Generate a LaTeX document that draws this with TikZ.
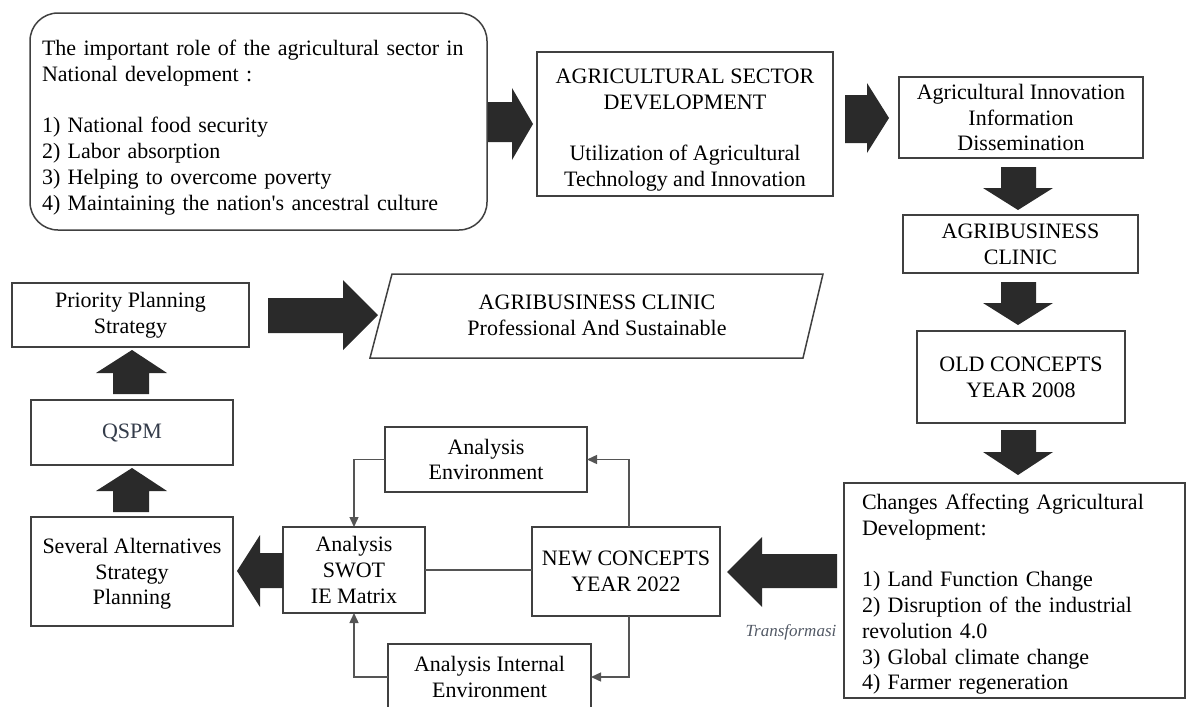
\documentclass[tikz,border=0pt]{standalone}
\usepackage{fontspec}
\setmainfont{Liberation Serif}[Ligatures=TeXOff]
\usetikzlibrary{arrows.meta}
\definecolor{boxline}{HTML}{404040}
\definecolor{arrowfill}{HTML}{2A2A2A}
\definecolor{conncol}{HTML}{555555}
\definecolor{slate}{HTML}{343C4A}
\begin{document}
\begin{tikzpicture}[x=1pt,y=-1pt,
  every node/.style={font=\fontsize{22}{25.8}\selectfont, inner sep=0pt, outer sep=0pt},
  box/.style={draw=boxline, line width=1.5pt, align=center},
  lbox/.style={draw=boxline, line width=1.5pt, align=left},
  barrow/.style={fill=arrowfill},
  conn/.style={draw=conncol, line width=1.4pt},
  tip/.style={-{Triangle[length=10pt,width=9pt]}}
]
\useasboundingbox (0,0) rectangle (1187,707);
\clip (0,0) rectangle (1187,707);

% boxes
\node[lbox, rounded corners=28pt, minimum width=457, minimum height=217, text width=433, inner xsep=12pt] (role) at (258.5,121.5)
 {\rule{0pt}{27pt}The important role of the agricultural sector in\\ National development :\\[25.8pt]
  1) National food security\\ 2) Labor absorption\\ 3) Helping to overcome poverty\\ 4) Maintaining the nation's ancestral culture};
\node[box, minimum width=296, minimum height=144] (asd) at (685,124)
 {\rule{0pt}{27pt}AGRICULTURAL SECTOR\\ DEVELOPMENT\\[25.8pt] Utilization of Agricultural\\ Technology and Innovation};
\node[box, minimum width=244, minimum height=81] (aiid) at (1021,117.5)
 {Agricultural Innovation\\ Information\\ Dissemination};
\node[box, minimum width=235, minimum height=58] (abc) at (1020.5,244)
 {AGRIBUSINESS\\ CLINIC};
\node[box, minimum width=208, minimum height=92] (old) at (1021,377)
 {OLD CONCEPTS\\ YEAR 2008};
\node[lbox, minimum width=341, minimum height=215, text width=305, inner xsep=18pt] (chg) at (1014.5,590.5)
 {\rule{0pt}{23pt}Changes Affecting Agricultural\\ Development:\\[25.8pt]
  1) Land Function Change\\ 2) Disruption of the industrial\\ revolution 4.0\\ 3) Global climate change\\ 4) Farmer regeneration};
\node[box, minimum width=188, minimum height=89] (newc) at (626,571.5)
 {NEW CONCEPTS\\ YEAR 2022};
\node[box, minimum width=202, minimum height=65] (env) at (486,459.5)
 {Analysis\\ Environment};
\node[box, minimum width=142, minimum height=86] (swot) at (354,570)
 {Analysis\\ SWOT\\ IE Matrix};
\node[box, minimum width=203, minimum height=66] (intl) at (489.5,677)
 {Analysis Internal\\ Environment};
\node[box, minimum width=202, minimum height=109] (sev) at (132,571.5)
 {\rule{0pt}{20pt}Several Alternatives\\ Strategy\\ Planning};
\node[box, minimum width=202, minimum height=65, text=slate] (qspm) at (132,432.5)
 {QSPM};
\node[box, minimum width=237, minimum height=64] (prio) at (130.5,315)
 {Priority Planning\\ Strategy};
\node[align=center] (goal) at (597,315)
 {AGRIBUSINESS CLINIC\\ Professional And Sustainable};
\draw[boxline, line width=1.5pt] (392,274) -- (823,274) -- (803,358) -- (370,358) -- cycle;

\node[font=\fontsize{17}{20}\itshape, text=slate!85] (trans) at (791,632) {Transformasi};

% block arrows
\fill[barrow] (488,102) -- (512,102) -- (512,88) -- (533,124) -- (512,160) -- (512,142) -- (488,142) -- cycle;
\fill[barrow] (845,95) -- (867,95) -- (867,83) -- (889,118) -- (867,153) -- (867,143) -- (845,143) -- cycle;
\fill[barrow] (1001,167) -- (1036,167) -- (1036,188) -- (1053,188) -- (1018,210) -- (983,188) -- (1001,188) -- cycle;
\fill[barrow] (1001,282) -- (1036,282) -- (1036,303) -- (1053,303) -- (1018,325) -- (983,303) -- (1001,303) -- cycle;
\fill[barrow] (1001,430) -- (1036,430) -- (1036,452) -- (1053,452) -- (1018,475) -- (983,452) -- (1001,452) -- cycle;
\fill[barrow] (837,554) -- (762,554) -- (762,537) -- (727,572) -- (762,607) -- (762,588) -- (837,588) -- cycle;
\fill[barrow] (283,553) -- (260,553) -- (260,535) -- (237,571) -- (260,607) -- (260,588) -- (283,588) -- cycle;
\fill[barrow] (113,512) -- (113,491) -- (96,491) -- (132,468) -- (167,491) -- (149,491) -- (149,512) -- cycle;
\fill[barrow] (113,394) -- (113,373) -- (96,373) -- (132,350) -- (167,373) -- (149,373) -- (149,394) -- cycle;
\fill[barrow] (268,298) -- (343,298) -- (343,280) -- (378,315) -- (343,350) -- (343,333) -- (268,333) -- cycle;

% thin connectors
\draw[conn, tip] ([xshift=3pt]newc.north) |- (env.east);
\draw[conn, tip] (env.west) -| (swot.north);
\draw[conn, tip] ([xshift=3pt]newc.south) |- (intl.east);
\draw[conn, tip] (intl.west) -| (swot.south);
\draw[conn] (swot.east) -- (swot.east -| newc.west);
\end{tikzpicture}
\end{document}
